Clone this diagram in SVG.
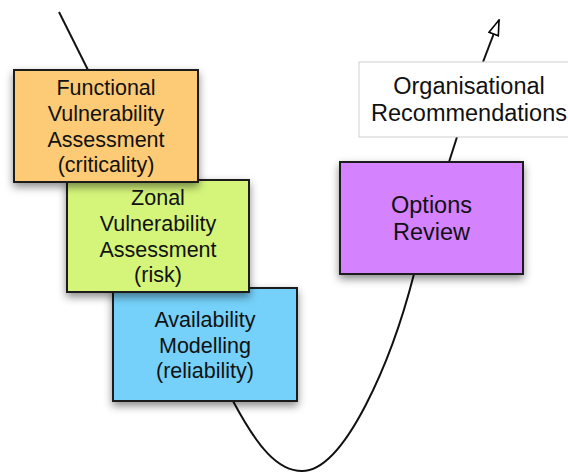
<svg xmlns="http://www.w3.org/2000/svg" width="568" height="472" viewBox="0 0 568 472">
<defs>
<filter id="sh" x="-20%" y="-20%" width="140%" height="150%">
<feDropShadow dx="0" dy="4" stdDeviation="4" flood-color="#000" flood-opacity="0.45"/>
</filter>
<marker id="open" markerUnits="userSpaceOnUse" viewBox="0 0 17 12" refX="16" refY="6" markerWidth="17" markerHeight="12" orient="auto">
<path d="M1,1 L16,6 L1,11 Z" fill="#fff" stroke="#000" stroke-width="1.6" stroke-linejoin="miter"/>
</marker>
</defs>
<style>
.box{stroke:#1a1a1a;stroke-width:2}
.t{font-family:"Liberation Sans",Arial,sans-serif;font-size:21.5px;fill:#111;text-anchor:middle}
.t2{font-family:"Liberation Sans",Arial,sans-serif;font-size:23.5px;fill:#111;text-anchor:middle}
.ln{fill:none;stroke:#111;stroke-width:2}
</style>
<rect width="568" height="472" fill="#fff"/>
<g id="connectors">
<path class="ln" d="M59,12 L88,70"/>
<path class="ln" d="M233,401 C258,448 278,471 302,471 C345,471 392,360 414,274"/>
<path class="ln" d="M449,162 L457,137"/>
<path class="ln" d="M483,62 L499,20" marker-end="url(#open)"/>
</g>
<g id="options">
<rect class="box" x="340" y="162" width="183" height="112" fill="#D582FE" filter="url(#sh)"/>
<text class="t2" x="431.5" y="213">Options</text>
<text class="t2" x="431.5" y="240">Review</text>
</g>
<g id="org">
<rect x="359" y="62" width="230" height="75" fill="#fff" stroke="#d0d0d0" stroke-width="1"/>
<text class="t2" x="469" y="94">Organisational</text>
<text class="t2" x="469" y="121">Recommendations</text>
</g>
<g id="availability">
<rect class="box" x="113" y="288" width="184" height="113" fill="#75D1FA" filter="url(#sh)"/>
<text class="t" x="205" y="327">Availability</text>
<text class="t" x="205" y="353">Modelling</text>
<text class="t" x="205" y="378">(reliability)</text>
</g>
<g id="zonal">
<rect class="box" x="67" y="180" width="182" height="112" fill="#D4F57A" filter="url(#sh)"/>
<text class="t" x="158" y="205">Zonal</text>
<text class="t" x="158" y="231">Vulnerability</text>
<text class="t" x="158" y="257">Assessment</text>
<text class="t" x="158" y="282">(risk)</text>
</g>
<g id="functional">
<rect class="box" x="14" y="70" width="184" height="112" fill="#FDCB74" filter="url(#sh)"/>
<text class="t" x="106" y="95">Functional</text>
<text class="t" x="106" y="121">Vulnerability</text>
<text class="t" x="106" y="147">Assessment</text>
<text class="t" x="106" y="172">(criticality)</text>
</g>
</svg>
